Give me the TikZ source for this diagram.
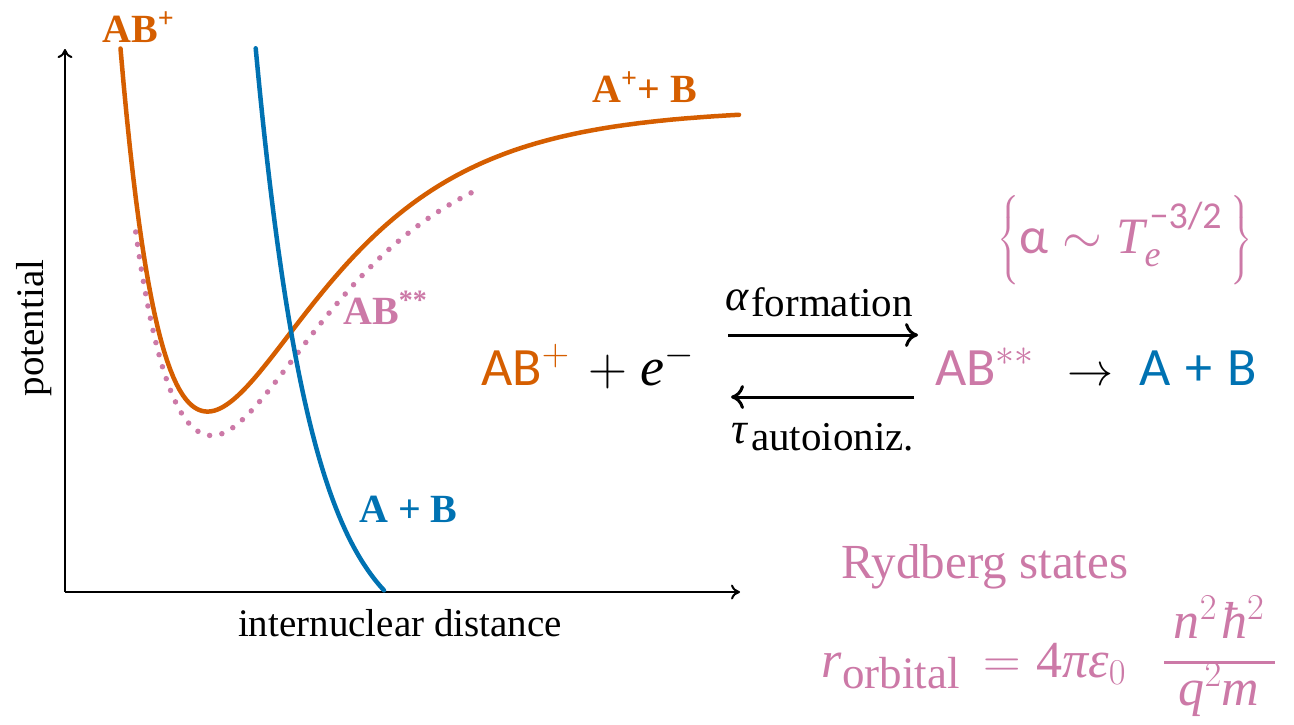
\RequirePackage{fix-cm}
\documentclass[tikz,border=0pt]{standalone}
\usepackage{amsmath}
\usepackage[no-math]{fontspec}
\setmainfont{Liberation Serif}
\newfontfamily\carl{Carlito}
\usetikzlibrary{arrows.meta}
\definecolor{cor}{RGB}{213,94,0}
\definecolor{cbl}{RGB}{0,114,178}
\definecolor{cpk}{RGB}{204,121,167}
\newcommand{\vi}[1]{\textit{#1}}
\begin{document}
\begin{tikzpicture}[x=1pt,y=-1pt,
  declare function={
    mo(\x)=1-exp(-((\x<207.5)?0.0085:0.0086)*(\x-207.5));
    pk(\x)=1-exp(-((\x<212.3)?0.0078:0.0086)*(\x-212.3));
  },
  axisline/.style={line width=2pt,-{To[length=9pt,width=15pt]}},
  curve/.style={line width=4.5pt,line cap=round},
  dotcurve/.style={line width=5.5pt,line cap=round,dash pattern=on 0pt off 12.5pt},
  lab/.style={inner sep=0pt,anchor=base west,font=\fontsize{40}{46}\selectfont\bfseries},
  axl/.style={inner sep=0pt,font=\fontsize{39}{46}\selectfont},
  bigf/.style={inner sep=0pt,anchor=base west,font=\fontsize{54}{60}\selectfont},
  subl/.style={inner sep=0pt,anchor=base west,font=\fontsize{41}{46}\selectfont},
  greek/.style={inner sep=0pt,anchor=base west,font=\fontsize{44}{48}\selectfont},
  rxn/.style={line width=3pt,-{To[length=13pt,width=24pt]}},
  pkf/.style={inner sep=0pt,text=cpk,font=\fontsize{52}{58}\selectfont},
]
\useasboundingbox (0,0) rectangle (1294,724);

% axes
\coordinate (O) at (65,592);
\coordinate (Ytip) at (65,49);
\coordinate (Xtip) at (740,592);
\draw[axisline] (O) -- (Ytip);
\draw[axisline] (O) -- (Xtip);

% curves
\draw[dotcurve,cpk] plot[domain=135.7:472.6,samples=150] (\x,{435.6-305*pk(\x)*pk(\x)});
\draw[curve,cor] plot[domain=120.5:739,samples=200] (\x,{411.6-303*mo(\x)*mo(\x)});
\draw[curve,cbl] plot[domain=255.7:384,samples=100] (\x,{650-601.7*exp(-0.018*(\x-255.7))});

% curve labels
\node[lab,text=cor] (tABp) at (102,42) {AB\textsuperscript{+}};
\node[lab,text=cor] (tApB) at (592,102) {A\textsuperscript{+}+ B};
\node[lab,text=cpk] (tABss) at (343,324) {AB\textsuperscript{**}};
\node[lab,text=cbl] (tAB) at (359,522) {A + B};

% axis labels
\node[axl,rotate=90,anchor=base] (ylab) at (43,328) {potential};
\node[axl,anchor=base] (xlab) at (400,636) {internuclear distance};

% reaction
\node[bigf] (lhs) at (481,385) {{\color{cor}\carl AB$^{+}$}\hspace{19pt}$+$\hspace{13pt}\vi{e}$^{-}$};
\node[greek] (alpha) at (725,310) {\vi{α}};
\node[subl] (form) at (751,316) {formation};
\coordinate (fa) at (728,335);
\coordinate (fb) at (918,335);
\draw[rxn] (fa) -- (fb);
\coordinate (ba) at (914,397);
\coordinate (bb) at (731,397);
\draw[rxn] (ba) -- (bb);
\node[greek] (tau) at (731,443) {\vi{τ}};
\node[subl] (auto) at (751,450) {autoioniz.};

\node[bigf,text=cpk] (mid) at (935,385) {\carl AB$^{**}$};
\node[inner sep=0pt,anchor=base west,font=\fontsize{46}{50}\selectfont] (to) at (1067,385) {$\rightarrow$};
\node[bigf,text=cbl] (prod) at (1139,385) {\carl A\hspace{15pt}+\hspace{15pt}B};

\node[inner sep=0pt,anchor=base west,text=cpk,font=\fontsize{51}{56}\selectfont] (rate) at (997,253)
  {$\left\{\vrule height 52pt depth 28pt width 0pt\text{\carl α}\sim\text{\itshape T\rlap{\raisebox{-13pt}{\fontsize{36}{40}\selectfont e}}\hspace{5pt}\raisebox{25pt}{\fontsize{38}{42}\selectfont\upshape\carl −3/2}}\,\right\}$};

% Rydberg states
\node[inner sep=0pt,anchor=base west,text=cpk,font=\fontsize{49}{56}\selectfont] (ryd) at (841,578) {Rydberg states};
\node[pkf,anchor=base west] (rsym) at (821,677) {\vi{r}};
\node[inner sep=0pt,anchor=base west,text=cpk,font=\fontsize{45}{50}\selectfont] (rsub) at (842,688) {orbital};
\node[pkf,anchor=base west] (eq) at (983,677) {$=$};
\node[pkf,anchor=base west] (fourpi) at (1036,677) {4\vi{πε}$_{0}$};
\node[pkf,anchor=base] (num) at (1219,638) {\vi{n}$^{2}$\hspace{4pt}\vi{ħ}$^{2}$};
\node[pkf,anchor=base] (den) at (1219,705) {\vi{q}$^{2}$\vi{m}};
\coordinate (barL) at (1164,662.5);
\coordinate (barR) at (1275,662.5);
\draw[cpk,line width=3pt] (barL) -- (barR);
\end{tikzpicture}
\end{document}
